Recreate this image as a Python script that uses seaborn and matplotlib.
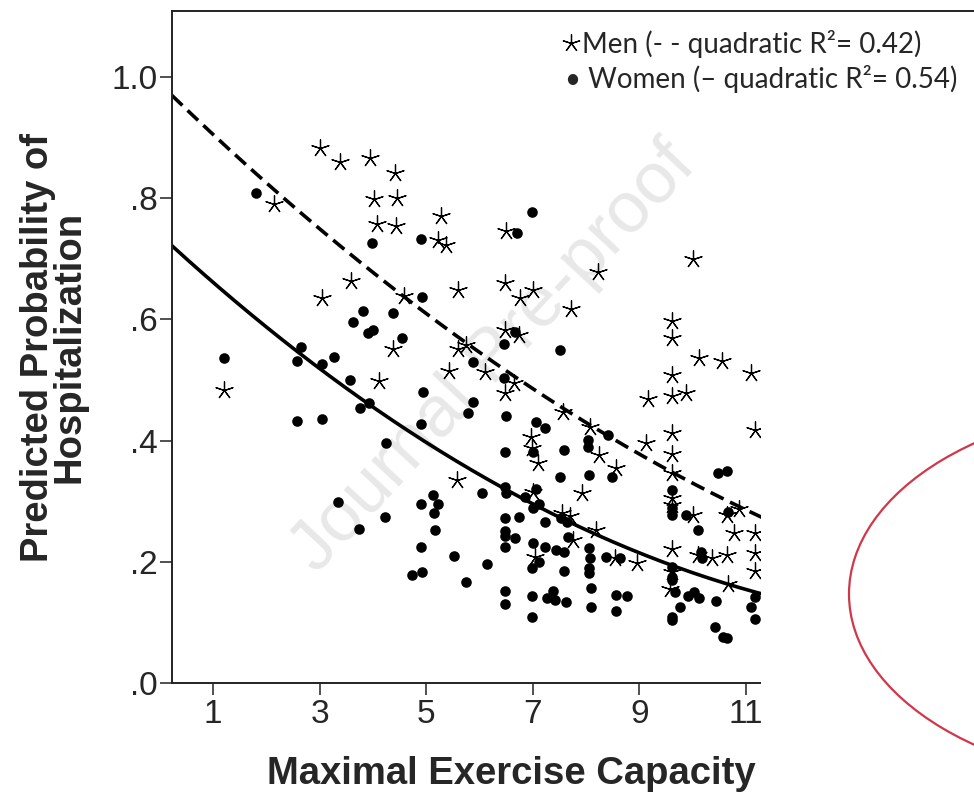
import numpy as np
import matplotlib.pyplot as plt
import seaborn as sns
from matplotlib.patches import Rectangle, Ellipse
from matplotlib.lines import Line2D

# Men (stars)
men_x = [3.01, 3.38, 3.95, 4.42, 4.03, 4.46, 2.14, 4.08, 4.43, 5.28, 5.23, 5.37, 3.59, 3.05, 4.59,
         5.60, 4.38, 5.59, 5.43, 4.11, 1.21, 5.57,
         6.49, 10.01, 8.22, 6.48, 6.76, 7.00, 7.72, 9.61, 9.61, 10.12, 10.56, 11.09, 6.48, 6.75,
         5.75, 6.10, 6.65, 6.48, 9.17, 9.61, 9.87, 9.61,
         7.56, 8.07, 6.97, 9.62, 9.12, 11.17, 6.98, 8.25, 7.09, 9.62, 8.56, 9.62, 7.00, 7.92, 9.61,
         9.61, 10.00, 10.64, 10.87, 10.77, 11.17, 7.54, 7.70, 8.18, 7.76, 7.04, 8.54, 8.95, 9.62,
         9.61, 9.57, 10.10, 10.36, 10.65, 11.17, 11.17, 10.67]
men_y = [0.883, 0.859, 0.867, 0.842, 0.798, 0.801, 0.791, 0.757, 0.754, 0.771, 0.731, 0.723, 0.664, 0.635, 0.639,
         0.649, 0.552, 0.552, 0.515, 0.498, 0.483, 0.335,
         0.746, 0.699, 0.679, 0.660, 0.635, 0.649, 0.618, 0.597, 0.570, 0.537, 0.531, 0.511, 0.583, 0.574,
         0.558, 0.514, 0.495, 0.478, 0.468, 0.474, 0.478, 0.508,
         0.448, 0.423, 0.406, 0.412, 0.396, 0.417, 0.387, 0.376, 0.363, 0.378, 0.354, 0.346, 0.316, 0.313, 0.305,
         0.294, 0.277, 0.277, 0.287, 0.248, 0.248, 0.280, 0.276, 0.252, 0.236, 0.208, 0.206, 0.198, 0.221,
         0.184, 0.155, 0.211, 0.206, 0.211, 0.214, 0.185, 0.163]

# Women (dots)
women_x = [1.81, 3.98, 4.90, 4.92, 3.81, 4.38, 3.62, 3.90, 4.01, 4.54, 2.66, 2.58, 3.05, 3.28, 3.57,
           1.21, 4.95,
           3.75, 3.93, 4.90, 2.58, 3.04, 4.24, 3.34, 3.74, 4.23, 4.90, 5.12, 5.22, 5.15, 5.16,
           4.90, 5.53, 4.73, 4.92,
           6.98, 6.70, 6.67, 6.47, 7.51, 5.87, 6.47, 5.88,
           5.79, 6.49, 7.07, 7.23, 8.42, 8.04, 8.04, 6.48, 7.01, 7.59, 8.49, 8.06, 7.52, 10.48, 10.65,
           6.05, 6.48, 6.49, 7.07, 6.85, 7.01, 7.12, 9.61, 9.61, 9.61, 9.87, 10.10, 10.67, 7.53, 7.65,
           6.48, 6.75, 7.23, 6.48, 6.48, 6.67, 6.48, 7.67, 6.15, 5.75, 7.01, 7.23, 7.43, 7.59, 8.06,
           8.08, 7.12, 6.99, 7.59, 8.06, 8.06, 8.37, 8.64, 9.61, 9.61, 9.61, 9.67, 10.16, 10.18,
           11.17, 11.10, 11.17, 6.48, 6.48, 6.98, 6.98, 7.27, 7.38, 7.41, 7.63, 8.09, 8.09, 8.57,
           8.76, 8.57, 9.62, 9.62, 9.77, 9.92, 10.02, 10.12, 10.44, 10.42, 10.57, 10.65]
women_y = [0.809, 0.726, 0.732, 0.637, 0.614, 0.610, 0.595, 0.577, 0.582, 0.570, 0.554, 0.531, 0.526, 0.538, 0.500,
           0.537, 0.480,
           0.454, 0.462, 0.427, 0.432, 0.436, 0.396, 0.299, 0.254, 0.274, 0.295, 0.310, 0.295, 0.280, 0.253,
           0.225, 0.209, 0.179, 0.184,
           0.778, 0.742, 0.579, 0.559, 0.550, 0.530, 0.504, 0.464,
           0.445, 0.441, 0.431, 0.421, 0.410, 0.401, 0.390, 0.382, 0.382, 0.385, 0.340, 0.343, 0.340, 0.346, 0.350,
           0.314, 0.324, 0.313, 0.320, 0.307, 0.288, 0.295, 0.318, 0.288, 0.278, 0.277, 0.252, 0.283, 0.272, 0.266,
           0.272, 0.274, 0.266, 0.251, 0.243, 0.239, 0.225, 0.241, 0.196, 0.167, 0.231, 0.225, 0.219, 0.217, 0.222,
           0.206, 0.200, 0.189, 0.185, 0.189, 0.181, 0.208, 0.206, 0.192, 0.175, 0.170, 0.151, 0.217, 0.206,
           0.142, 0.125, 0.105, 0.152, 0.130, 0.144, 0.109, 0.140, 0.152, 0.137, 0.133, 0.156, 0.125, 0.146,
           0.144, 0.119, 0.109, 0.104, 0.126, 0.144, 0.151, 0.141, 0.136, 0.093, 0.076, 0.075]

# quadratic fit lines a + b*x + c*x^2
men_fit = [0.9893, -0.08587, 0.001992]
women_fit = [0.7402, -0.08141, 0.002559]

x_ticks = [1, 3, 5, 7, 9, 11]
y_ticks = [0, 0.2, 0.4, 0.6, 0.8, 1.0]
y_labels = ['.0', '.2', '.4', '.6', '.8', '1.0']

sns.set_style('ticks')
plt.rcParams['font.family'] = ['Liberation Sans', 'DejaVu Sans']

W, H = 974, 796
fig = plt.figure(figsize=(W / 100, H / 100), dpi=100)
ax = fig.add_axes([172 / W, 113 / H, 802 / W, 672 / H])

# watermark
ax.text(494 / W, 1 - 358 / H, 'Journal Pre-proof', transform=fig.transFigure, fontsize=52,
        color='#e8e8e8', rotation=47, rotation_mode='anchor', ha='center', va='center', zorder=0.5)

sns.scatterplot(x=men_x, y=men_y, marker=(5, 2, 0), s=160, color='black', edgecolor='black',
                linewidth=0.9, ax=ax)
sns.scatterplot(x=women_x, y=women_y, marker='o', s=58, color='black', edgecolor='black',
                linewidth=0, ax=ax)

xs = np.linspace(0.23, 12, 200)
sns.lineplot(x=xs, y=np.polyval(men_fit[::-1], xs), color='black', lw=2.6,
             linestyle=(0, (4, 2)), ax=ax)
sns.lineplot(x=xs, y=np.polyval(women_fit[::-1], xs), color='black', lw=2.6, ax=ax)

ax.set_xlim(0.231, 15.28)
ax.set_ylim(0, 1.109)
ax.set_xticks(x_ticks)
ax.set_xticklabels([str(t) for t in x_ticks])
ax.set_yticks(y_ticks)
ax.set_yticklabels(y_labels)

ax.spines['right'].set_visible(False)
for side in ['left', 'bottom', 'top']:
    ax.spines[side].set_linewidth(1.4)
    ax.spines[side].set_color('#222222')
ax.tick_params(axis='both', length=8.6, width=1.1, color='#222222', labelsize=24, direction='out')
ax.tick_params(axis='y', pad=2)
ax.tick_params(axis='x', pad=3)

ax.set_xlabel('Maximal Exercise Capacity', fontsize=27.5, fontweight='bold')
ax.xaxis.label.set_ha('left')
ax.xaxis.set_label_coords((267 - 172) / 802, -0.108)
ax.set_ylabel('Predicted Probability of\nHospitalization', fontsize=27.5, fontweight='bold',
              linespacing=0.85)
ax.yaxis.label.set_va('center')
ax.yaxis.set_label_coords((54 - 172) / 802, 0.5)

# the source picture is cropped on the right
fig.add_artist(Rectangle((761 / W, 0), 1, (H - 14) / H, transform=fig.transFigure,
                         facecolor='white', edgecolor='none', zorder=10))

# legend text
fig.add_artist(Line2D([571 / W], [1 - 43 / H], marker=(5, 2, 0), markersize=13, color='black',
                      mew=0.9, ls='none', transform=fig.transFigure, zorder=11))
fig.text(582 / W, 1 - 53 / H, 'Men (- - quadratic R²= 0.42)', family=['Lato', 'DejaVu Sans'],
         fontsize=20, ha='left', va='baseline', zorder=11)
fig.text(565 / W, 1 - 88 / H, '• Women (– quadratic R²= 0.54)', family=['Lato', 'DejaVu Sans'],
         fontsize=20, ha='left', va='baseline', zorder=11)

fig.add_artist(Ellipse((1169 / W, 1 - 594 / H), 640 / W, 380 / H, transform=fig.transFigure,
                       fill=False, edgecolor='#d0384a', lw=1.6, zorder=11))

fig.savefig('out.png', dpi=100)
